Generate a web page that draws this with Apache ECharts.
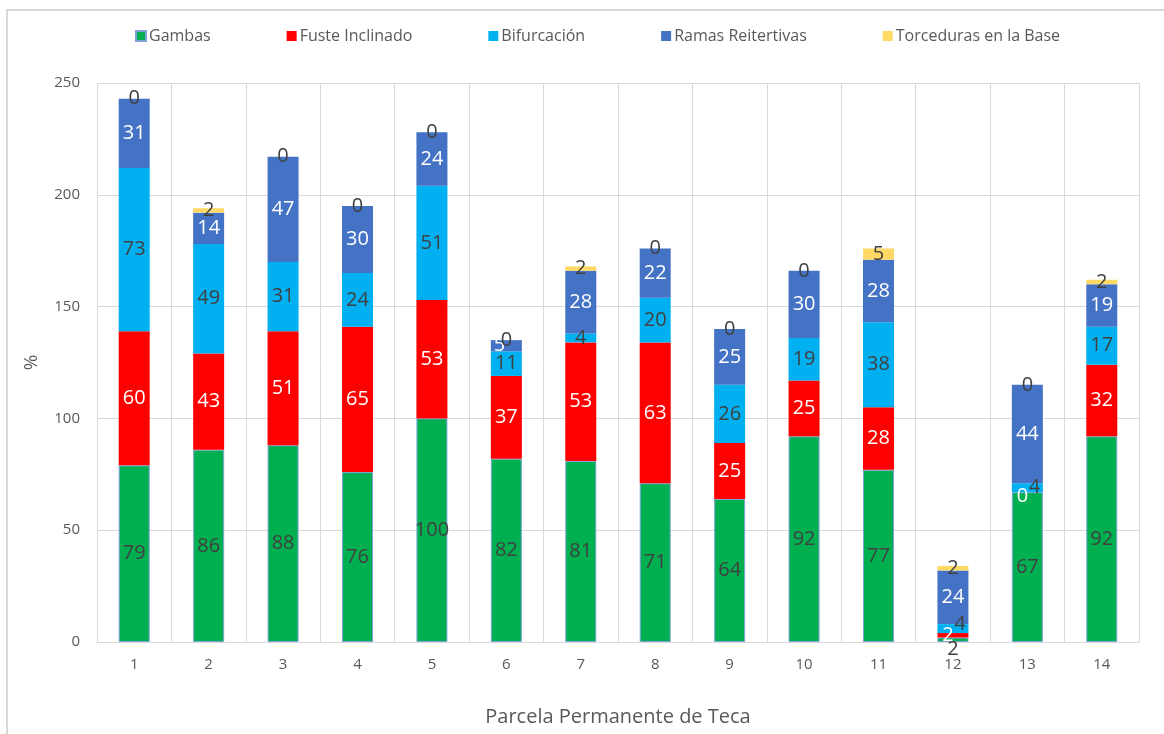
<!DOCTYPE html>
<html>
<head>
<meta charset="utf-8">
<title>Parcela Permanente de Teca</title>
<script src="https://cdn.jsdelivr.net/npm/echarts@6/dist/echarts.min.js"></script>
<style>
  html, body { margin: 0; padding: 0; background: #ffffff; }
  #chart { width: 1164px; height: 734px; }
</style>
</head>
<body>
<div id="chart"></div>
<script>
// Plots of the permanent teak parcel
const categories = ['1', '2', '3', '4', '5', '6', '7', '8', '9', '10', '11', '12', '13', '14'];

// Percent of trees per defect, one array per defect
const gambas       = [79, 86, 88, 76, 100, 82, 81, 71, 64, 92, 77, 2, 67, 92];
const fusteInclin  = [60, 43, 51, 65, 53, 37, 53, 63, 25, 25, 28, 2, 0, 32];
const bifurcacion  = [73, 49, 31, 24, 51, 11, 4, 20, 26, 19, 38, 4, 4, 17];
const ramasReit    = [31, 14, 47, 30, 24, 5, 28, 22, 25, 30, 28, 24, 44, 19];
const torceduras   = [0, 2, 0, 0, 0, 0, 2, 0, 0, 0, 5, 2, 0, 2];

const yTicks = { min: 0, max: 250, interval: 50 };

const FONT = '"Open Sans", "Noto Sans", sans-serif';
const DARK = '#404040';
const AXIS_TXT = '#595959';

// small label nudges where neighbouring labels crowd each other
const nudges = {
  Gambas: { 11: [0, 10] },
  'Fuste Inclinado': { 11: [-5, 0], 12: [-5, 4] },
  'Bifurcación': { 11: [7, -4], 12: [7, 0] },
  'Ramas Reitertivas': { 5: [-7, 0] }
};

function seriesDef(name, values, color, labelColor, extra) {
  const n = nudges[name] || {};
  return Object.assign({
    name: name,
    type: 'bar',
    stack: 'total',
    barWidth: 31,
    itemStyle: { color: color },
    label: {
      show: true,
      position: 'inside',
      color: labelColor,
      fontFamily: FONT,
      fontSize: 20
    },
    data: values.map((v, i) => n[i] ? { value: v, label: { offset: n[i] } } : v)
  }, extra || {});
}

const chart = echarts.init(document.getElementById('chart'));
chart.setOption({
  backgroundColor: '#ffffff',
  animation: false,
  textStyle: { fontFamily: FONT },
  graphic: [{
    type: 'rect',
    silent: true,
    shape: { x: 7, y: 10, width: 1200, height: 800 },
    style: { fill: 'none', stroke: '#d9d9d9', lineWidth: 2 }
  }],
  legend: {
    top: 23,
    left: 130,
    itemWidth: 10,
    itemHeight: 10,
    itemGap: 76,
    icon: 'rect',
    textStyle: { color: AXIS_TXT, fontSize: 16, fontFamily: FONT, padding: [0, 0, 0, -2] },
    data: ['Gambas', 'Fuste Inclinado', 'Bifurcación', 'Ramas Reitertivas', 'Torceduras en la Base']
  },
  grid: { left: 97, right: 25, top: 83, bottom: 92, containLabel: false },
  xAxis: {
    type: 'category',
    data: categories,
    name: 'Parcela Permanente de Teca',
    nameLocation: 'middle',
    nameGap: 65,
    nameTextStyle: { color: AXIS_TXT, fontSize: 20, fontFamily: FONT },
    axisLine: { show: true, lineStyle: { color: '#d9d9d9', width: 1 } },
    axisTick: { show: false },
    axisLabel: { color: AXIS_TXT, fontSize: 15, margin: 15, fontFamily: FONT },
    splitLine: { show: true, lineStyle: { color: '#d9d9d9', width: 1 } }
  },
  yAxis: {
    type: 'value',
    min: yTicks.min,
    max: yTicks.max,
    interval: yTicks.interval,
    name: '%',
    nameLocation: 'middle',
    nameGap: 56,
    nameRotate: 90,
    nameTextStyle: { color: AXIS_TXT, fontSize: 19, fontFamily: FONT },
    axisLine: { show: false },
    axisTick: { show: false },
    axisLabel: { color: AXIS_TXT, fontSize: 15, margin: 17, fontFamily: FONT },
    splitLine: { show: true, lineStyle: { color: '#d9d9d9', width: 1 } }
  },
  series: [
    seriesDef('Gambas', gambas, '#00B050', DARK, {
      itemStyle: { color: '#00B050', borderColor: '#7FA3D6', borderWidth: 1 }
    }),
    seriesDef('Fuste Inclinado', fusteInclin, '#FF0000', '#ffffff'),
    seriesDef('Bifurcación', bifurcacion, '#00B0F0', DARK),
    seriesDef('Ramas Reitertivas', ramasReit, '#4472C4', '#ffffff'),
    seriesDef('Torceduras en la Base', torceduras, '#FFD966', DARK)
  ]
});
</script>
</body>
</html>
